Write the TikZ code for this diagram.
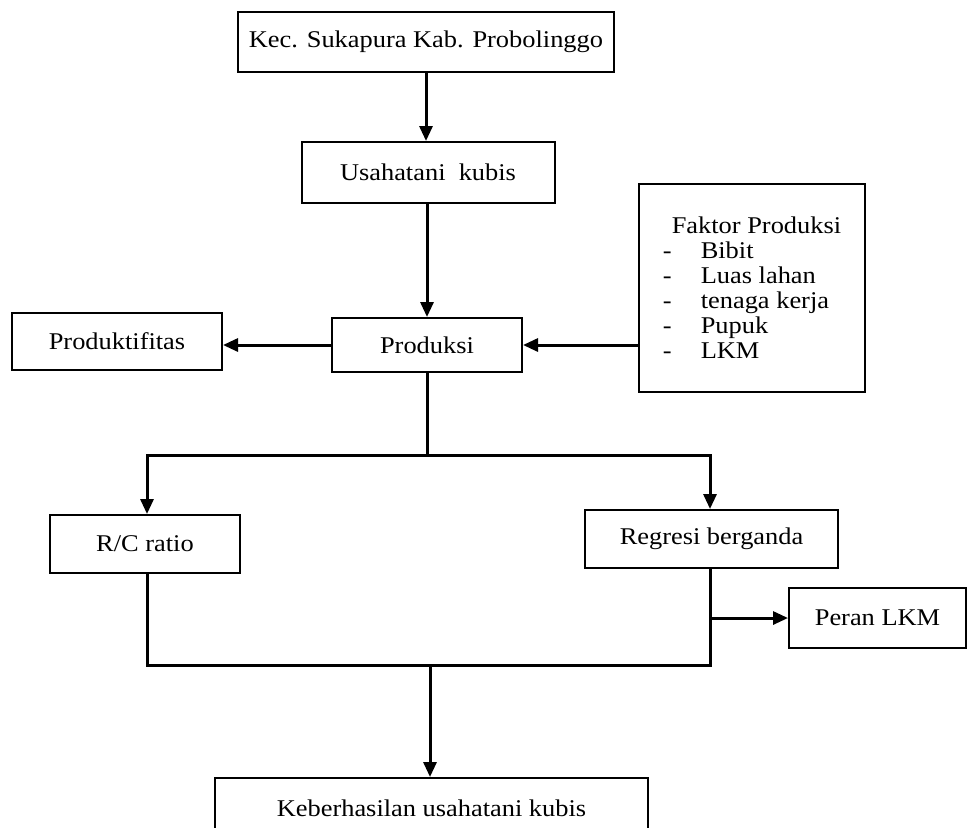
\documentclass[tikz,border=0pt]{standalone}
\usepackage{fontspec}
\setmainfont[FakeStretch=1.1]{Liberation Serif}
\usetikzlibrary{arrows.meta}

\begin{document}
\begin{tikzpicture}[x=0.5pt,y=-0.5pt,
    kotak/.style={draw,line width=1pt,inner sep=0pt,font=\fontsize{12}{12.5}\selectfont},
    garis/.style={line width=1.5pt},
    panah/.style={line width=1.5pt,-{Triangle[width=6.5pt,length=7.5pt]}},
]
\clip (0,0) rectangle (967,827);
\fill[white] (0,0) rectangle (967,827);

\node[kotak,minimum width=188pt,minimum height=30pt] (kec) at (426,42) {Kec. Sukapura Kab. Probolinggo};
\node[kotak,minimum width=126.5pt,minimum height=30.5pt] (usaha) at (428,172.5) {Usahatani\ \ kubis};
\node[kotak,minimum width=95pt,minimum height=27pt] (prod) at (427,345) {Produksi};
\node[kotak,minimum width=105pt,minimum height=28.5pt] (produk) at (117,341.5) {Produktifitas};
\node[kotak,minimum width=113pt,minimum height=104pt,align=left] (faktor) at (752,288)
  {\hspace*{4.5pt}Faktor Produksi\\
   \makebox[19pt][l]{-}Bibit\\
   \makebox[19pt][l]{-}Luas lahan\\
   \makebox[19pt][l]{-}tenaga kerja\\
   \makebox[19pt][l]{-}Pupuk\\
   \makebox[19pt][l]{-}LKM};
\node[kotak,minimum width=95pt,minimum height=29pt] (rc) at (145,544) {R/C ratio};
\node[kotak,minimum width=126.5pt,minimum height=29pt] (reg) at (711.5,539) {Regresi berganda};
\node[kotak,minimum width=88.5pt,minimum height=30pt] (peran) at (877.5,618) {Peran LKM};
\node[kotak,minimum width=216.5pt,minimum height=30pt] (hasil) at (431.5,808) {Keberhasilan usahatani kubis};

% alur utama
\draw[panah] (kec.south) -- (kec.south |- usaha.north);
\draw[panah] (prod.north |- usaha.south) -- (prod.north);
\draw[panah] (faktor.west |- prod) -- (prod.east);
\draw[panah] (prod.west) -- (prod.west -| produk.east);

% cabang analisis
\coordinate (cabang) at (427,455);
\draw[garis] (prod.south) -- (cabang);
\draw[panah] (cabang) -| ([xshift=1pt]rc.north);
\draw[panah] (cabang) -| ([xshift=-0.75pt]reg.north);

\coordinate (gabung) at (430,665);
\draw[garis] ([xshift=1pt]rc.south) |- (gabung) -| ([xshift=-0.75pt]reg.south);
\draw[panah] (gabung) -- (gabung |- hasil.north);
\draw[panah] ([xshift=-0.75pt]reg.south |- peran.west) -- (peran.west);
\end{tikzpicture}
\end{document}
